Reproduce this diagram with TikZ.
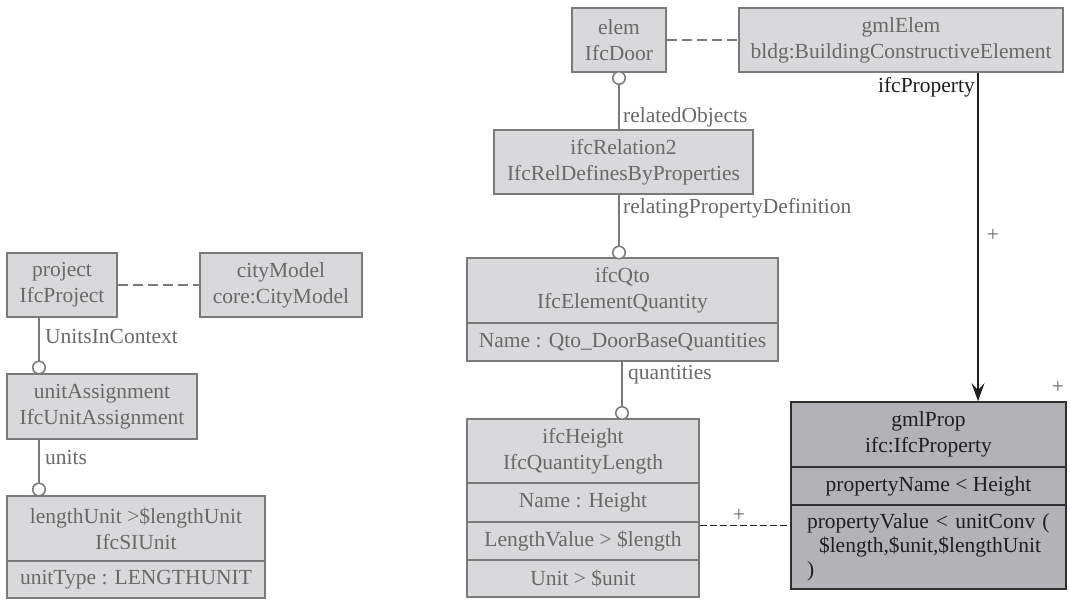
\documentclass[tikz,border=0pt]{standalone}
\usepackage{fontspec}
\setmainfont{Liberation Serif}
\usetikzlibrary{arrows.meta}
\definecolor{boxfill}{HTML}{D9D9DB}
\definecolor{boxdraw}{HTML}{7A7A7A}
\definecolor{txt}{HTML}{686868}
\definecolor{propfill}{HTML}{B3B3B7}
\definecolor{propdraw}{HTML}{303030}
\definecolor{ink}{HTML}{1E1E1E}
\begin{document}
\begin{tikzpicture}[x=1pt,y=-1pt,
 every node/.style={font=\fontsize{21.5}{26}\selectfont},
 cls/.style={draw=boxdraw, fill=boxfill, line width=1.5pt, text=txt, inner sep=0pt, align=center},
 prop/.style={draw=propdraw, fill=propfill, line width=1.8pt, text=ink, inner sep=0pt, align=center},
 ring/.style={circle, draw=boxdraw, fill=white, line width=1.5pt, minimum size=12.5pt, inner sep=0pt},
 conn/.style={draw=boxdraw, line width=1.5pt},
 link/.style={draw=boxdraw, line width=1.5pt, dash pattern=on 10pt off 5pt},
 blink/.style={draw=ink, line width=1.5pt, dash pattern=on 7pt off 3pt},
 role/.style={text=txt, inner sep=0pt},
 mult/.style={text=txt, inner sep=0pt},
 assoc/.style={draw=ink, line width=1.8pt, -{Stealth[length=18pt,width=13pt,inset=7pt]}}
]
\useasboundingbox (0,0) rectangle (1070,602);

% ---- left group
\node[cls, minimum width=110pt, minimum height=64pt] (project) at (62,285) {project\\IfcProject};
\node[cls, minimum width=162pt, minimum height=64pt] (city) at (281,285) {cityModel\\core:CityModel};
\node[cls, minimum width=190pt, minimum height=65pt] (ua) at (102,406.5) {unitAssignment\\IfcUnitAssignment};
\node[cls, minimum width=258pt, minimum height=65pt] (lu) at (136,528.5) {lengthUnit >\$lengthUnit\\IfcSIUnit};
\node[cls, minimum width=258pt, minimum height=37pt] (luA) at (136,579.5) {unitType : LENGTHUNIT};

\node[ring] (r1) at (39,367.5) {};
\node[ring] (r2) at (39,489.5) {};

\draw[link] (project.east) -- (city.west);
\draw[conn] (project.south -| r1) -- (r1.north);
\draw[conn] (ua.south -| r2) -- (r2.north);
\node[role, anchor=west] (l1) at (45,336) {UnitsInContext};
\node[role, anchor=west] (l2) at (45,457) {units};

% ---- right group
\node[cls, minimum width=94pt, minimum height=64pt] (elem) at (619,40) {elem\\IfcDoor};
\node[cls, minimum width=324pt, minimum height=64pt] (gmlElem) at (901,40) {gmlElem\\bldg:BuildingConstructiveElement};
\node[cls, minimum width=259pt, minimum height=64pt] (rel) at (623.5,162) {ifcRelation2\\IfcRelDefinesByProperties};
\node[cls, minimum width=311pt, minimum height=65pt] (qto) at (622.5,290.5) {ifcQto\\IfcElementQuantity};
\node[cls, minimum width=311pt, minimum height=38pt] (qtoA) at (622.5,342) {Name : Qto\_DoorBaseQuantities};
\node[cls, minimum width=232pt, minimum height=64pt] (hgt) at (583,451) {ifcHeight\\IfcQuantityLength};
\node[cls, minimum width=232pt, minimum height=39pt] (hgtA) at (583,502.5) {Name : Height};
\node[cls, minimum width=232pt, minimum height=38pt] (hgtB) at (583,541) {LengthValue > \$length};
\node[cls, minimum width=232pt, minimum height=37pt] (hgtC) at (583,578.5) {Unit > \$unit};

\node[prop, minimum width=275pt, minimum height=65pt] (gp) at (928.5,434.5) {gmlProp\\ifc:IfcProperty};
\node[prop, minimum width=275pt, minimum height=38pt] (gpA) at (928.5,486) {propertyName < Height};
\node[prop, minimum width=275pt, minimum height=84pt, text width=243pt, inner xsep=16pt, align=left, font=\fontsize{21.5}{24}\selectfont] (gpB) at (928.5,547)
  {propertyValue < unitConv (\\\hspace*{12pt}\$length,\$unit,\$lengthUnit\\)};

\node[ring] (r3) at (619,78) {};
\node[ring] (r4) at (619,252.5) {};
\node[ring] (r5) at (622,413) {};

\draw[link] (elem.east) -- (gmlElem.west);
\draw[conn] (r3.south) -- (r3.south |- rel.north);
\draw[conn] (rel.south -| r4) -- (r4.north);
\draw[conn] (qtoA.south -| r5) -- (r5.north);

\node[role, anchor=west] (l3) at (623,117) {relatedObjects};
\node[role, anchor=west] (l4) at (623,208) {relatingPropertyDefinition};
\node[role, anchor=west] (l5) at (628,375) {quantities};

\coordinate (aTop) at ([xshift=77pt]gmlElem.south);
\draw[assoc] (aTop) -- (aTop |- gp.north);
\node[inner sep=0pt, anchor=east, text=ink] (l6) at (975,87) {ifcProperty};
\node[mult] (m1) at (993,235) {+};
\node[mult] (m2) at (1058,387) {+};

\coordinate (dA) at ([yshift=-4pt]hgtB.north east);
\draw[blink] (dA) -- (dA -| gpB.west);
\node[mult] (m3) at (739,515) {+};
\end{tikzpicture}
\end{document}
